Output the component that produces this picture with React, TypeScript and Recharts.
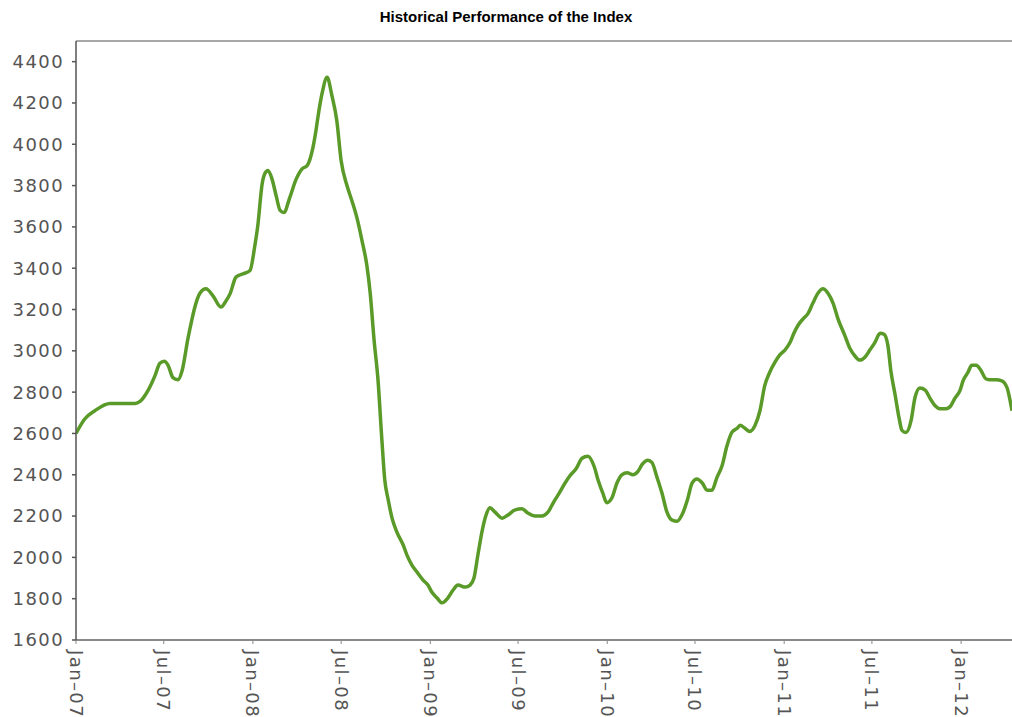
import React from "react";
import { LineChart, Line, XAxis, YAxis, ReferenceLine } from "recharts";

const dates: string[] = [
  "2007-01-01","2007-01-19","2007-02-09","2007-03-12","2007-05-03","2007-05-13","2007-05-30","2007-06-13","2007-06-23","2007-07-02",
  "2007-07-10","2007-07-20","2007-07-30","2007-08-08","2007-08-20","2007-08-28","2007-09-03","2007-09-14","2007-09-26","2007-10-11",
  "2007-10-27","2007-11-06","2007-11-15","2007-11-27","2007-12-12","2007-12-26","2008-01-05","2008-01-11","2008-01-20","2008-01-26",
  "2008-02-01","2008-02-09","2008-02-18","2008-02-26","2008-03-05","2008-03-17","2008-03-30","2008-04-11","2008-04-22","2008-05-04",
  "2008-05-10","2008-05-14","2008-05-23","2008-06-02","2008-06-12","2008-06-22","2008-07-01","2008-07-13","2008-07-23","2008-08-03",
  "2008-08-13","2008-08-23","2008-08-30","2008-09-07","2008-09-15","2008-09-23","2008-09-29","2008-10-06","2008-10-14","2008-10-24",
  "2008-11-06","2008-11-14","2008-11-24","2008-12-04","2008-12-17","2008-12-27","2009-01-04","2009-01-15","2009-01-25","2009-02-06",
  "2009-02-17","2009-02-27","2009-03-14","2009-03-24","2009-04-01","2009-04-09","2009-04-18","2009-04-26","2009-05-04","2009-05-14",
  "2009-05-29","2009-06-10","2009-06-25","2009-07-09","2009-07-21","2009-08-05","2009-08-19","2009-09-01","2009-09-13","2009-09-21",
  "2009-10-06","2009-10-16","2009-10-29","2009-11-10","2009-11-22","2009-12-05","2009-12-13","2009-12-23","2009-12-31","2010-01-11",
  "2010-01-21","2010-01-31","2010-02-11","2010-02-23","2010-03-05","2010-03-14","2010-03-26","2010-04-03","2010-04-14","2010-04-24",
  "2010-05-04","2010-05-15","2010-05-25","2010-06-04","2010-06-15","2010-06-25","2010-07-05","2010-07-16","2010-07-26","2010-08-05",
  "2010-08-15","2010-08-26","2010-09-05","2010-09-15","2010-09-26","2010-10-02","2010-10-12","2010-10-22","2010-11-02","2010-11-12",
  "2010-11-22","2010-12-01","2010-12-13","2010-12-23","2011-01-03","2011-01-13","2011-01-21","2011-01-30","2011-02-09","2011-02-19",
  "2011-03-01","2011-03-12","2011-03-22","2011-04-01","2011-04-12","2011-04-22","2011-05-06","2011-05-17","2011-05-27","2011-06-06",
  "2011-06-17","2011-06-27","2011-07-07","2011-07-18","2011-07-26","2011-08-03","2011-08-09","2011-08-18","2011-08-26","2011-09-01",
  "2011-09-09","2011-09-20","2011-09-28","2011-10-08","2011-10-19","2011-10-29","2011-11-08","2011-11-18","2011-12-01","2011-12-11",
  "2011-12-19","2011-12-30","2012-01-05","2012-01-15","2012-01-23","2012-02-01","2012-02-11","2012-02-21","2012-03-01","2012-03-13",
  "2012-03-25","2012-04-05","2012-04-11","2012-04-15"
];

const indexValues: number[] = [
  2600,2670,2710,2745,2745,2755,2810,2880,2940,2950,
  2930,2870,2860,2905,3060,3150,3210,3280,3300,3265,
  3212,3240,3277,3357,3373,3389,3510,3605,3808,3860,
  3873,3835,3750,3680,3670,3742,3830,3880,3897,3986,
  4065,4130,4250,4324,4235,4115,3920,3800,3728,3640,
  3534,3414,3278,3051,2860,2570,2375,2280,2190,2122,
  2060,2010,1963,1930,1890,1866,1832,1803,1780,1803,
  1842,1866,1856,1866,1900,2010,2130,2205,2240,2220,
  2190,2205,2230,2235,2215,2200,2200,2220,2270,2300,
  2360,2395,2430,2480,2490,2440,2375,2310,2265,2290,
  2360,2400,2410,2400,2415,2450,2470,2460,2385,2310,
  2220,2180,2175,2205,2275,2360,2380,2360,2325,2325,
  2385,2445,2540,2605,2625,2640,2625,2610,2640,2710,
  2833,2890,2945,2980,3005,3040,3085,3125,3155,3180,
  3230,3280,3300,3280,3230,3155,3075,3010,2975,2955,
  2970,3005,3040,3085,3080,3025,2905,2785,2675,2615,
  2605,2665,2775,2820,2810,2770,2735,2720,2720,2735,
  2770,2810,2855,2895,2930,2930,2905,2865,2860,2860,
  2855,2820,2760,2710
];

const tickDates: string[] = [
  "2007-01-01","2007-07-01","2008-01-01","2008-07-01","2009-01-01","2009-07-01",
  "2010-01-01","2010-07-01","2011-01-01","2011-07-01","2012-01-01"
];
const tickLabels: string[] = [
  "Jan\u201307","Jul\u201307","Jan\u201308","Jul\u201308","Jan\u201309","Jul\u201309",
  "Jan\u201310","Jul\u201310","Jan\u201311","Jul\u201311","Jan\u201312"
];
const yTicks: number[] = [1600,1800,2000,2200,2400,2600,2800,3000,3200,3400,3600,3800,4000,4200,4400];
const yMin = 1600;
const yMax = 4500;
const xStart = "2007-01-01";
const xEnd = "2012-04-15";

const ts = (s: string) => Date.parse(s + "T00:00:00Z");
const data = dates.map((d, i) => ({ t: ts(d), v: indexValues[i] }));
const xTicks = tickDates.map(ts);
const labelFor = (v: number) => {
  const i = xTicks.indexOf(v);
  return i >= 0 ? tickLabels[i] : "";
};

const XTick = (props: any) => {
  const { x, y, payload } = props;
  const yy = y + 4;
  return (
    <text
      x={x}
      y={yy}
      transform={`rotate(90, ${x}, ${yy})`}
      textAnchor="start"
      dominantBaseline="central"
      fill="#555"
      fontSize={18}
      letterSpacing={1.4}
      fontFamily="DejaVu Sans"
    >
      {labelFor(payload.value)}
    </text>
  );
};

export default function App() {
  return (
    <div style={{ position: "absolute", left: 0, top: 0, width: 1012, height: 717, overflow: "hidden", background: "#fff" }}>
      <div
        style={{
          position: "absolute",
          left: 0,
          top: 8,
          width: 1012,
          textAlign: "center",
          fontFamily: "Liberation Sans, Arial, sans-serif",
          fontWeight: "bold",
          fontSize: 15,
          lineHeight: "17px",
          color: "#000",
        }}
      >
        Historical Performance of the Index
      </div>
      <LineChart width={1012} height={717} data={data} margin={{ top: 41, right: 0, bottom: 0, left: 0 }}>
        <XAxis
          dataKey="t"
          type="number"
          domain={[ts(xStart), ts(xEnd)]}
          ticks={xTicks}
          tick={<XTick />}
          height={77}
          stroke="#8a8a8a"
          strokeWidth={2}
          tickSize={4}
          tickLine={{ stroke: "#8a8a8a", strokeWidth: 1 }}
          allowDataOverflow
          interval={0}
        />
        <YAxis
          dataKey="v"
          type="number"
          domain={[yMin, yMax]}
          ticks={yTicks}
          width={76}
          stroke="#555"
          strokeWidth={1.5}
          tickSize={4}
          tickMargin={8}
          tick={{ fill: "#555", fontSize: 18, fontFamily: "DejaVu Sans", letterSpacing: 1.4 }}
          interval={0}
          allowDataOverflow
        />
        <ReferenceLine y={yMax} stroke="#a8a8a8" strokeWidth={2} />
        <Line
          type="monotone"
          dataKey="v"
          stroke="#5a9a28"
          strokeWidth={3.5}
          dot={false}
          isAnimationActive={false}
        />
      </LineChart>
    </div>
  );
}
